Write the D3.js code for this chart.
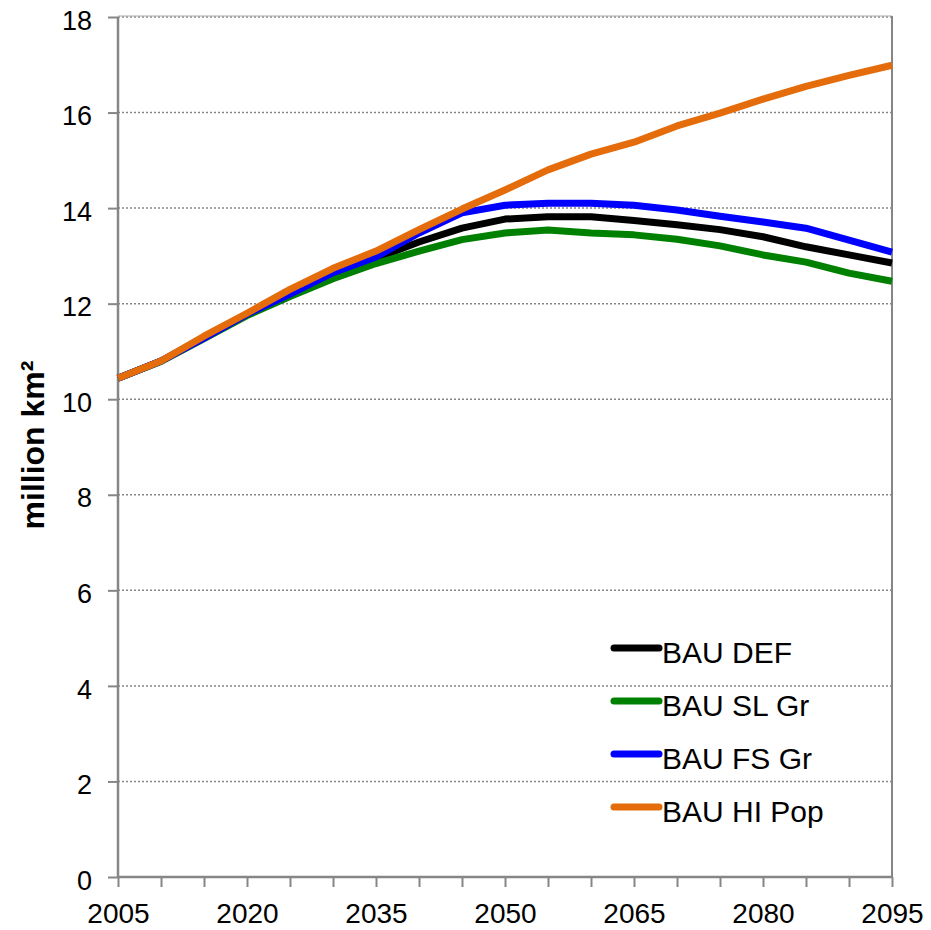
<!DOCTYPE html>
<html>
<head>
<meta charset="utf-8">
<script src="https://cdn.jsdelivr.net/npm/d3@7"></script>
<style>
  body { margin: 0; background: #fff; }
  text { font-family: "Liberation Sans", Arial, sans-serif; }
</style>
</head>
<body>
<script>
var years = d3.range(2005, 2096, 5);
var xTickLabels = [2005, 2020, 2035, 2050, 2065, 2080, 2095];
var yTicks = [0, 2, 4, 6, 8, 10, 12, 14, 16, 18];
var seriesNames = ['BAU DEF', 'BAU SL Gr', 'BAU FS Gr', 'BAU HI Pop'];
var seriesColors = ['#000000', '#008000', '#0000ff', '#e46c0a'];

var bauDef   = [10.44, 10.80, 11.29, 11.77, 12.20, 12.62, 12.95, 13.29, 13.58, 13.77, 13.82, 13.82, 13.74, 13.65, 13.55, 13.40, 13.19, 13.02, 12.85];
var bauSlGr  = [10.44, 10.79, 11.27, 11.75, 12.15, 12.52, 12.84, 13.10, 13.34, 13.48, 13.54, 13.48, 13.44, 13.35, 13.21, 13.02, 12.87, 12.64, 12.47];
var bauFsGr  = [10.44, 10.80, 11.28, 11.78, 12.20, 12.65, 12.98, 13.48, 13.90, 14.06, 14.10, 14.10, 14.06, 13.96, 13.83, 13.71, 13.58, 13.33, 13.08];
var bauHiPop = [10.44, 10.80, 11.32, 11.80, 12.30, 12.74, 13.10, 13.55, 13.98, 14.38, 14.80, 15.13, 15.38, 15.72, 15.99, 16.28, 16.55, 16.78, 16.99];

var seriesData = [bauDef, bauSlGr, bauFsGr, bauHiPop];

var width = 931, height = 930;
var plotLeft = 118, plotRight = 892, plotTop = 17, plotBottom = 877;

var svg = d3.select('body').append('svg')
  .attr('width', width).attr('height', height);

var x = d3.scaleLinear().domain([2005, 2095]).range([plotLeft, plotRight]);
var y = d3.scaleLinear().domain([0, 18]).range([plotBottom, plotTop]);

// grid lines
svg.append('g')
  .selectAll('line')
  .data(yTicks.slice(1))
  .enter()
  .append('line')
  .attr('x1', plotLeft).attr('x2', plotRight)
  .attr('y1', function(d) { return y(d); })
  .attr('y2', function(d) { return y(d); })
  .attr('stroke', '#868686')
  .attr('stroke-width', 1.5)
  .attr('stroke-dasharray', '2,2');

// frame top/right
svg.append('line')
  .attr('x1', plotLeft).attr('x2', plotRight).attr('y1', plotTop - 1).attr('y2', plotTop - 1)
  .attr('stroke', '#aaa').attr('stroke-width', 1);
svg.append('line')
  .attr('x1', plotRight).attr('x2', plotRight).attr('y1', plotTop - 1).attr('y2', plotBottom)
  .attr('stroke', '#868686').attr('stroke-width', 2);

// y axis
var yAxis = svg.append('g')
  .attr('transform', 'translate(' + plotLeft + ',0)')
  .call(d3.axisLeft(y).tickValues(yTicks).tickSize(10).tickPadding(16));

// x axis
var xAxis = svg.append('g')
  .attr('transform', 'translate(0,' + plotBottom + ')')
  .call(d3.axisBottom(x).tickValues(years).tickSize(10).tickPadding(16)
    .tickFormat(function(d) { return xTickLabels.indexOf(d) >= 0 ? d : ''; }));

[yAxis, xAxis].forEach(function(a) {
  a.attr('font-family', '"Liberation Sans", Arial, sans-serif');
  a.selectAll('path').attr('stroke', '#868686').attr('stroke-width', 2.5);
  a.selectAll('line').attr('stroke', '#868686').attr('stroke-width', 2);
  a.selectAll('text').attr('fill', '#000');
});
yAxis.attr('font-size', 27);
yAxis.selectAll('text').attr('dy', '0.45em');
xAxis.attr('font-size', 28);
yAxis.select('.domain').attr('d', 'M0,' + plotBottom + 'V' + plotTop);
xAxis.select('.domain').attr('d', 'M' + plotLeft + ',0H' + plotRight);

// y title
svg.append('text')
  .attr('transform', 'translate(44,' + 445 + ') rotate(-90)')
  .attr('text-anchor', 'middle')
  .attr('font-size', 32)
  .attr('font-weight', 'bold')
  .text('million km²');

// lines
var line = d3.line()
  .x(function(d, i) { return x(years[i]); })
  .y(function(d) { return y(d); });

svg.append('g')
  .selectAll('path')
  .data(seriesData)
  .enter()
  .append('path')
  .attr('d', line)
  .attr('fill', 'none')
  .attr('stroke', function(d, i) { return seriesColors[i]; })
  .attr('stroke-width', 7)
  .attr('stroke-linejoin', 'round');

// legend
var legend = svg.append('g')
  .selectAll('g')
  .data(seriesNames)
  .enter()
  .append('g')
  .attr('transform', function(d, i) { return 'translate(614,' + (648 + i * 53) + ')'; });

legend.append('line')
  .attr('x1', 0).attr('x2', 45)
  .attr('stroke', function(d, i) { return seriesColors[i]; })
  .attr('stroke-width', 7)
  .attr('stroke-linecap', 'round');

legend.append('text')
  .attr('x', 48)
  .attr('y', 15)
  .attr('font-size', 30)
  .text(function(d) { return d; });
</script>
</body>
</html>
